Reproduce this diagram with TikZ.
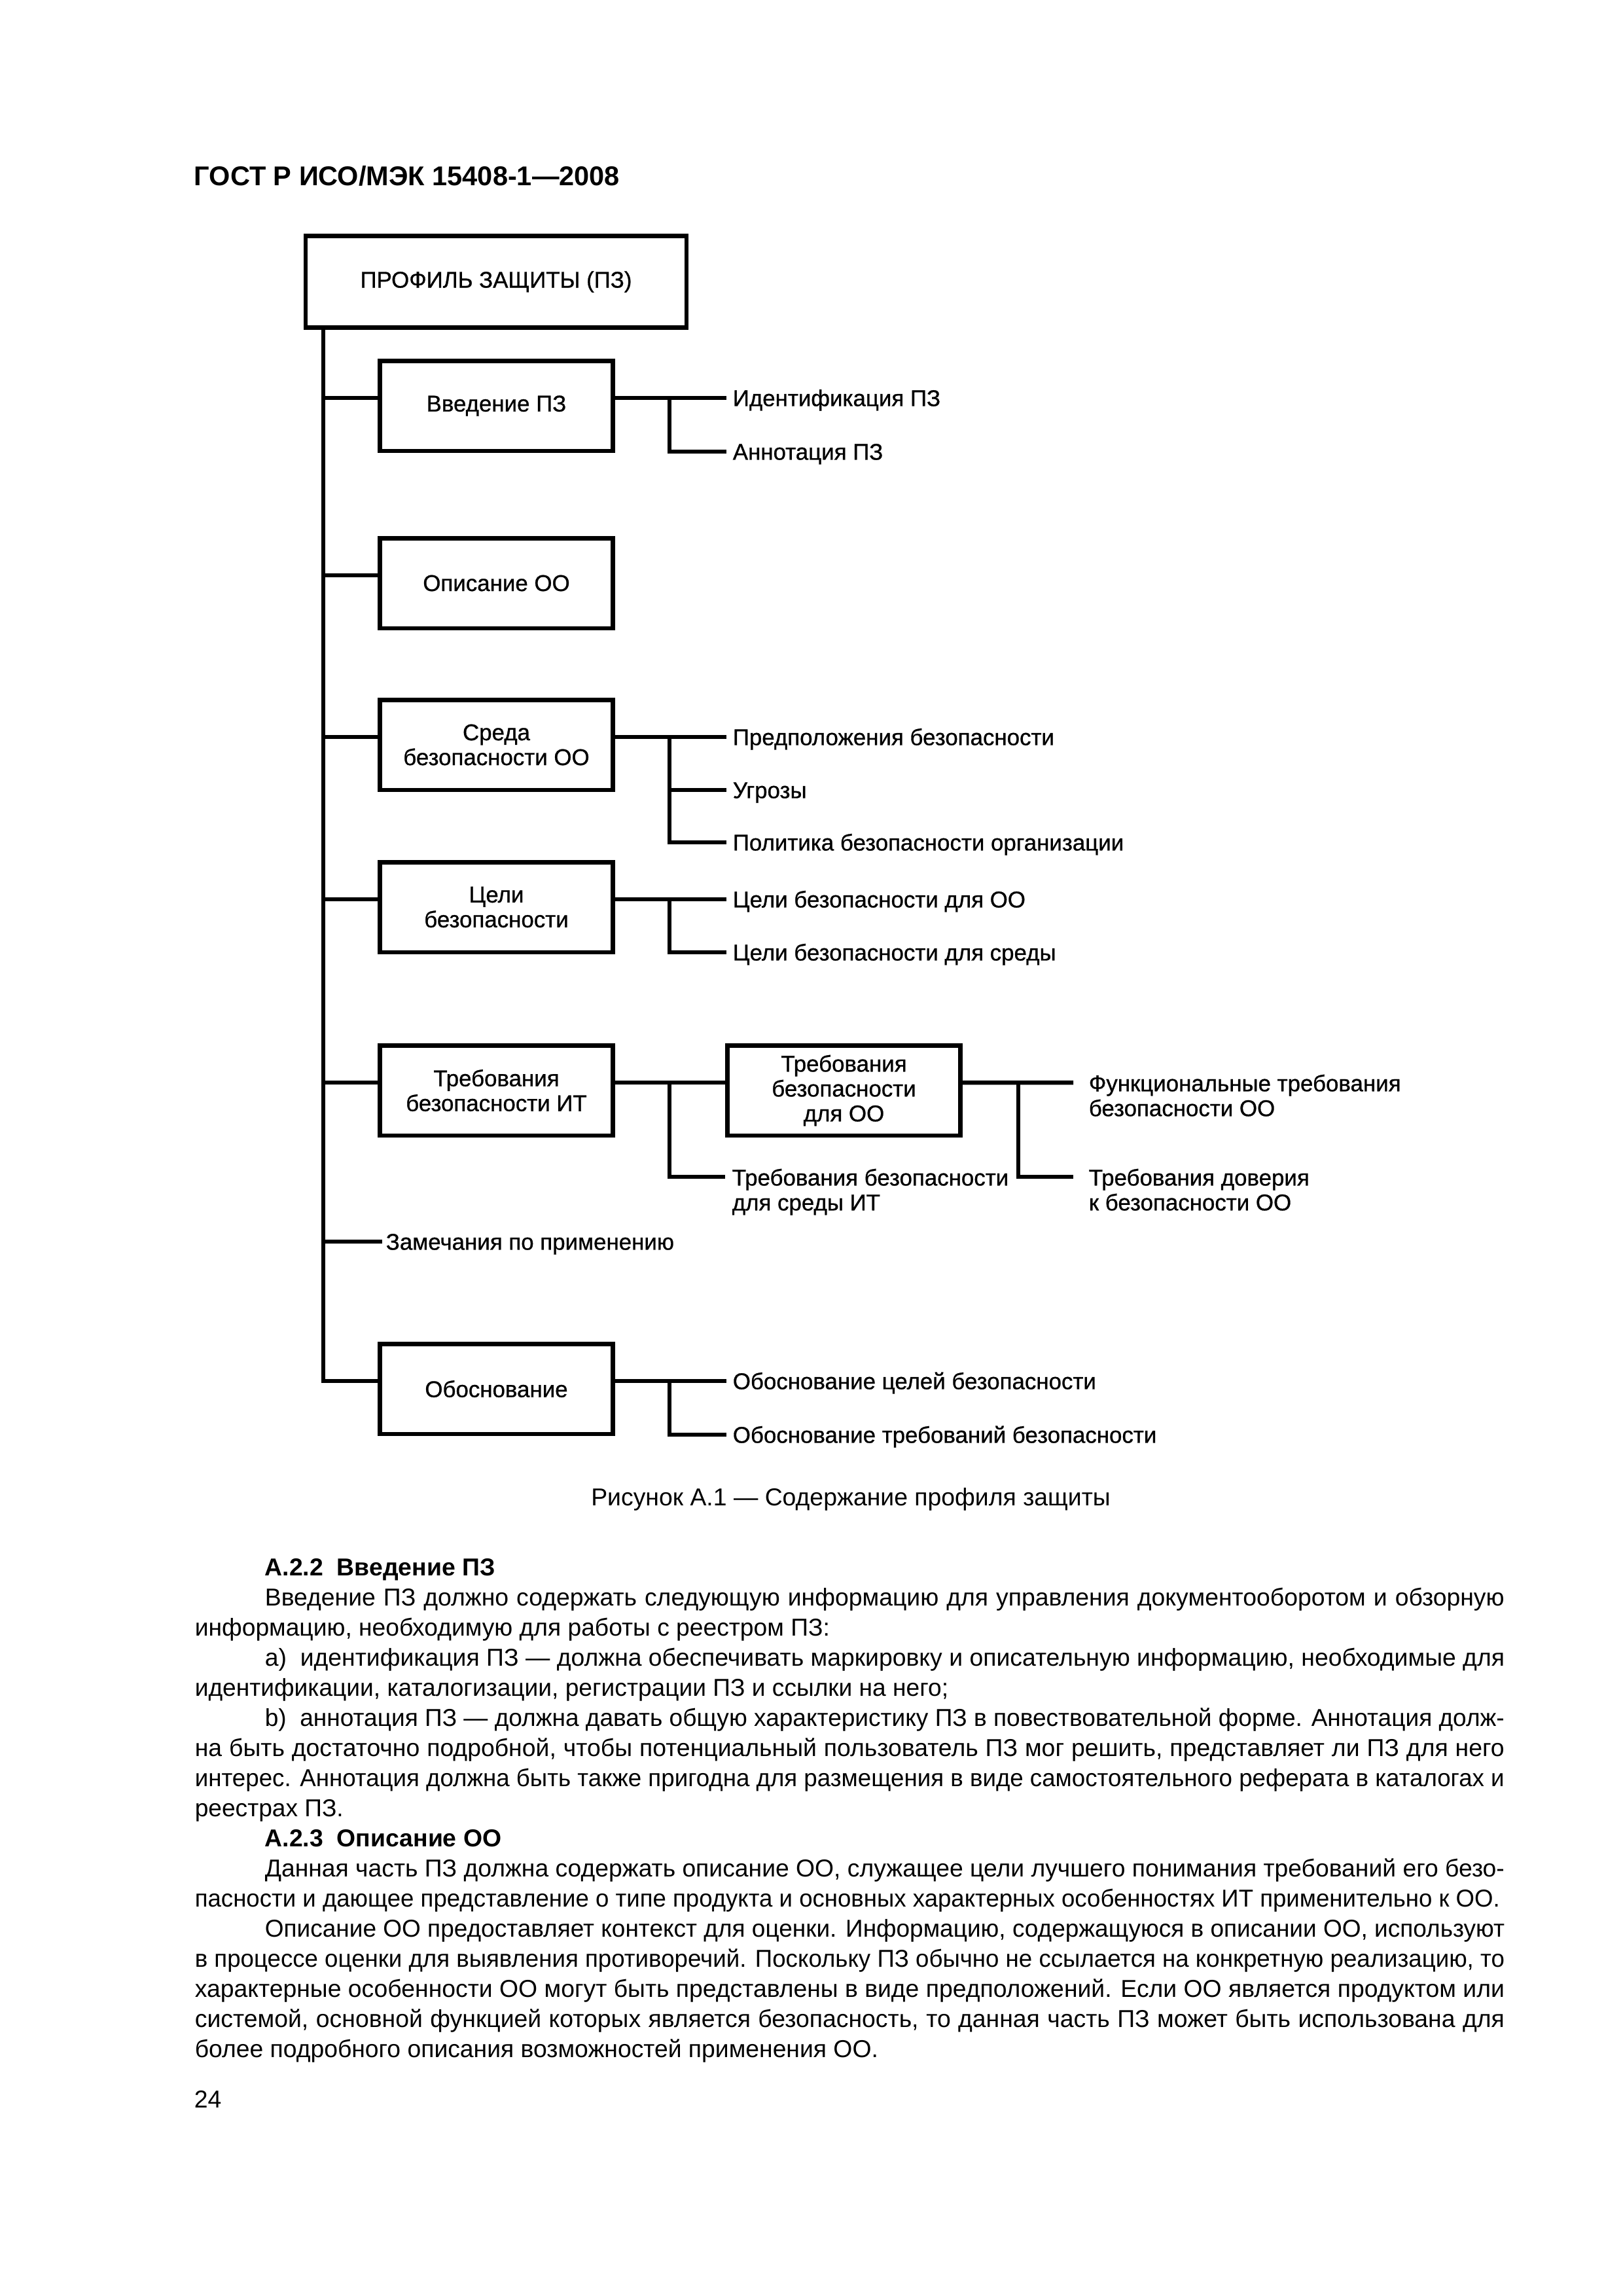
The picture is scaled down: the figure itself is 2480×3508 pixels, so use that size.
\documentclass[tikz,border=0pt]{standalone}
\usepackage{fontspec}
\setmainfont{Liberation Sans}
\newfontface\diagface[FakeBold=0.8]{Liberation Sans}
\usepackage{graphicx}
\newdimen\px \px=0.0846774mm
\newsavebox\lnbox
\newcommand\jl[2]{\sbox\lnbox{#2}\ifdim\wd\lnbox>#1\relax\resizebox{#1}{\ht\lnbox}{\usebox\lnbox}\else\makebox[#1][s]{#2}\fi}
\newcommand\labfont{\diagface\fontsize{8.4pt}{9.15pt}\selectfont}
\newcommand\bodyfont{\fontsize{9pt}{11pt}\selectfont}
\begin{document}
\begin{tikzpicture}[x=0.0846774mm, y=-0.0846774mm,
  box/.style={draw, line width=1.57pt, minimum width=356\px, minimum height=137.5\px, inner sep=0pt, align=center, font=\labfont},
  lab/.style={font=\labfont, inner xsep=9\px, inner ysep=0pt, text height=6pt, text depth=0pt, anchor=west},
  labtwo/.style={font=\labfont, align=left, inner ysep=0pt, anchor=north west},
  body/.style={font=\bodyfont, inner sep=0pt, anchor=base west},
  conn/.style={line width=1.57pt}
]
\path[fill=white] (0,0) rectangle (2480,3508);
\useasboundingbox (0,0) rectangle (2480,3508);

% header
\node[anchor=base west, inner sep=0pt, font=\fontsize{10pt}{12pt}\selectfont\bfseries] (hdr) at (296,283) {ГОСТ Р ИСО/МЭК 15408-1—2008};

% boxes
\node[box, minimum width=582\px, minimum height=140.5\px] (main) at (758,430.5) {ПРОФИЛЬ ЗАЩИТЫ (ПЗ)};
\node[box] (vvod) at (758.5,620) {Введение ПЗ};
\node[box] (opis) at (758.5,891) {Описание ОО};
\node[box] (sreda) at (758.5,1138) {Среда\\безопасности ОО};
\node[box] (celi) at (758.5,1386) {Цели\\безопасности};
\node[box] (treb) at (758.5,1666) {Требования\\безопасности ИТ};
\node[box] (trebtwo) at (1289.5,1666) {Требования\\безопасности\\для ОО};
\node[box] (obos) at (758.5,2122) {Обоснование};

% helper coordinates
\coordinate (trunk) at (494,2110);
\coordinate (bx) at (1023,0);
\coordinate (bxb) at (1556,0);
\coordinate (opisJ) at ([yshift=12\px]opis.west);
\coordinate (trebJ) at ([yshift=12\px]treb.west);

% labels
\node[lab] (ident) at (1110,608) {Идентификация ПЗ};
\node[lab] (annot) at (1110,690) {Аннотация ПЗ};
\node[lab] (pred) at (1110,1126) {Предположения безопасности};
\node[lab] (ugr) at (1110,1207) {Угрозы};
\node[lab] (polit) at (1110,1287) {Политика безопасности организации};
\node[lab] (cOO) at (1110,1374) {Цели безопасности для ОО};
\node[lab] (cSr) at (1110,1455) {Цели безопасности для среды};
\node[lab, inner xsep=5\px] (zam) at (584,1897) {Замечания по применению};
\node[lab] (obc) at (1110,2110) {Обоснование целей безопасности};
\node[lab] (obt) at (1110,2192) {Обоснование требований безопасности};

\node[labtwo, inner xsep=10\px] (trsr) at (1108,1783.9) {\strut Требования безопасности\\\strut для среды ИТ};
\node[labtwo, inner xsep=23\px] (funk) at (1640,1639.9) {\strut Функциональные требования\\\strut безопасности ОО};
\node[labtwo, inner xsep=23\px] (dov) at (1640,1783.9) {\strut Требования доверия\\\strut к безопасности ОО};
\coordinate (trsrP) at ([yshift=-14.1\px]trsr.north west);
\coordinate (funkP) at ([yshift=-14.1\px]funk.north west);
\coordinate (dovP) at ([yshift=-14.1\px]dov.north west);

% trunk
\draw[conn] (main.south -| trunk) |- (obos.west |- trunk);
% Введение
\draw[conn] (trunk |- ident) -- (vvod.west |- ident);
\draw[conn] (vvod.east |- ident) -- (ident.west);
\draw[conn] (bx |- ident) |- (annot.west);
% Описание
\draw[conn] (trunk |- opisJ) -- (opisJ);
% Среда
\draw[conn] (trunk |- pred) -- (sreda.west |- pred);
\draw[conn] (sreda.east |- pred) -- (pred.west);
\draw[conn] (bx |- pred) |- (polit.west);
\draw[conn] (bx |- ugr) -- (ugr.west);
% Цели
\draw[conn] (trunk |- cOO) -- (celi.west |- cOO);
\draw[conn] (celi.east |- cOO) -- (cOO.west);
\draw[conn] (bx |- cOO) |- (cSr.west);
% Требования
\draw[conn] (trunk |- trebJ) -- (trebJ);
\draw[conn] (treb.east |- trebJ) -- (trebtwo.west |- trebJ);
\draw[conn] (bx |- trebJ) |- (trsrP);
\draw[conn] (trebtwo.east |- trebJ) -- (funkP);
\draw[conn] (bxb |- trebJ) |- (dovP);
% Замечания
\draw[conn] (trunk |- zam) -- (zam.west);
% Обоснование
\draw[conn] (obos.east |- obc) -- (obc.west);
\draw[conn] (bx |- obc) |- (obt.west);

% caption
\node[anchor=base, inner sep=0pt, font=\fontsize{9pt}{11pt}\selectfont] (cap) at (1300,2300) {Рисунок А.1 — Содержание профиля защиты};

% body text
\node[body] (l0) at (404,2407) {\bfseries А.2.2~~Введение ПЗ};
\node[body] (l1) at (404,2453) {\jl{1894\px}{Введение ПЗ должно содержать следующую информацию для управления документооборотом и обзорную}};
\node[body] (l2) at (297,2499) {\jl{970\px}{информацию, необходимую для работы с реестром ПЗ:}};
\node[body] (l3) at (404,2545) {\jl{1894\px}{a)~~идентификация ПЗ — должна обеспечивать маркировку и описательную информацию, необходимые для}};
\node[body] (l4) at (297,2591) {\jl{1151\px}{идентификации, каталогизации, регистрации ПЗ и ссылки на него;}};
\node[body] (l5) at (404,2637) {\jl{1894\px}{b)~~аннотация ПЗ — должна давать общую характеристику ПЗ в повествовательной форме. Аннотация долж-}};
\node[body] (l6) at (297,2683) {\jl{2001\px}{на быть достаточно подробной, чтобы потенциальный пользователь ПЗ мог решить, представляет ли ПЗ для него}};
\node[body] (l7) at (297,2729) {\jl{2001\px}{интерес. Аннотация должна быть также пригодна для размещения в виде самостоятельного реферата в каталогах и}};
\node[body] (l8) at (297,2775) {\jl{227\px}{реестрах ПЗ.}};
\node[body] (l9) at (404,2821) {\bfseries А.2.3~~Описание ОО};
\node[body] (l10) at (404,2867) {\jl{1894\px}{Данная часть ПЗ должна содержать описание ОО, служащее цели лучшего понимания требований его безо-}};
\node[body] (l11) at (297,2913) {\jl{1994\px}{пасности и дающее представление о типе продукта и основных характерных особенностях ИТ применительно к ОО.}};
\node[body] (l12) at (404,2959) {\jl{1894\px}{Описание ОО предоставляет контекст для оценки. Информацию, содержащуюся в описании ОО, используют}};
\node[body] (l13) at (297,3005) {\jl{2001\px}{в процессе оценки для выявления противоречий. Поскольку ПЗ обычно не ссылается на конкретную реализацию, то}};
\node[body] (l14) at (297,3051) {\jl{2001\px}{характерные особенности ОО могут быть представлены в виде предположений. Если ОО является продуктом или}};
\node[body] (l15) at (297,3097) {\jl{2001\px}{системой, основной функцией которых является безопасность, то данная часть ПЗ может быть использована для}};
\node[body] (l16) at (297,3143) {\jl{1044\px}{более подробного описания возможностей применения ОО.}};

% page number
\node[body] (pg) at (296,3220) {24};
\end{tikzpicture}
\end{document}
